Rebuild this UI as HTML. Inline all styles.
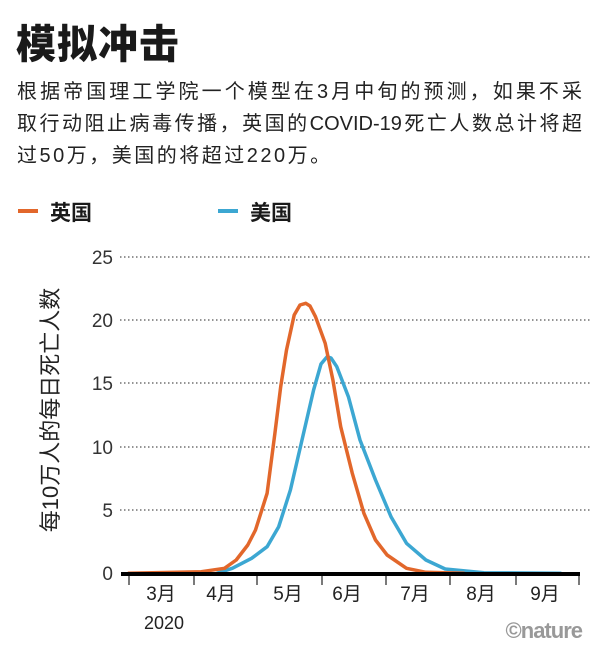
<!DOCTYPE html>
<html><head><meta charset="utf-8"><style>
body{margin:0;background:#fff;width:600px;height:660px;overflow:hidden;font-family:"Liberation Sans","Noto Sans CJK SC",sans-serif;color:#1a1a1a}
.t{position:absolute;left:16px;top:12px;font-size:40px;font-weight:900;letter-spacing:1px}
.p{position:absolute;left:17px;top:76px;width:565px;font-size:20px;line-height:32px;color:#222}
.j{display:block;text-align:justify;text-align-last:justify;white-space:nowrap}
</style></head><body>
<div class="t">模拟冲击</div>
<div class="p"><span class="j">根据帝国理工学院一个模型在3月中旬的预测，如果不采</span><span class="j">取行动阻止病毒传播，英国的COVID-19死亡人数总计将超</span><span style="display:block;letter-spacing:2.5px">过50万，美国的将超过220万。</span></div>
<svg width="600" height="660" style="position:absolute;left:0;top:0" font-family="Liberation Sans, Noto Sans CJK SC, sans-serif">
<line x1="18" y1="211" x2="38" y2="211" stroke="#e2672b" stroke-width="4"/>
<text x="50" y="220" font-size="21" font-weight="bold" fill="#1a1a1a">英国</text>
<line x1="218" y1="211" x2="238" y2="211" stroke="#3ca7d2" stroke-width="4"/>
<text x="250" y="220" font-size="21" font-weight="bold" fill="#1a1a1a">美国</text>
<g stroke="#555" stroke-width="1.3" stroke-dasharray="1.5,2.5">
<line x1="120" y1="257" x2="590" y2="257"/><line x1="120" y1="320" x2="590" y2="320"/><line x1="120" y1="383" x2="590" y2="383"/><line x1="120" y1="447" x2="590" y2="447"/><line x1="120" y1="510" x2="590" y2="510"/>
</g>
<g font-size="19" fill="#333" text-anchor="end">
<text x="113" y="264">25</text><text x="113" y="327">20</text><text x="113" y="390">15</text><text x="113" y="454">10</text><text x="113" y="517">5</text><text x="113" y="580">0</text>
</g>
<text transform="translate(58,410) rotate(-90)" font-size="22" fill="#222" text-anchor="middle">每10万人的每日死亡人数</text>
<polyline fill="none" stroke="#3ca7d2" stroke-width="3.5" stroke-linejoin="round" points="216.8,573.3 232.3,568.3 251.6,558.3 267.1,546.7 278.7,526.7 290.4,490 302,440 313.6,390 321,364 327.1,356.7 331,358 336.8,366.7 348.4,396.7 360,440 375.5,480 391,516.7 406.5,543.3 425.9,560 445.2,569 483.9,572.7 561.4,573.3"/>
<polyline fill="none" stroke="#e2672b" stroke-width="3.5" stroke-linejoin="round" points="127.8,573.3 201.3,571.7 224.5,568.3 236.2,560 247.8,545 255.5,530 267.1,493.3 274.9,433.3 280.7,386.7 286.5,350 294.2,315 300,305 305.8,303.3 310,306 315.5,316.7 325.2,343.3 332.9,380 340.7,426.7 352.3,473.3 363.9,513.3 375.5,540 387.1,555 406.5,568.3 425.9,572.3 464.6,573.3"/>
<line x1="121" y1="574" x2="580" y2="574" stroke="#000" stroke-width="4"/>
<g stroke="#333" stroke-width="1.3">
<line x1="129" y1="576" x2="129" y2="585"/><line x1="194" y1="576" x2="194" y2="585"/><line x1="257" y1="576" x2="257" y2="585"/><line x1="322" y1="576" x2="322" y2="585"/><line x1="386" y1="576" x2="386" y2="585"/><line x1="450" y1="576" x2="450" y2="585"/><line x1="516" y1="576" x2="516" y2="585"/><line x1="579" y1="576" x2="579" y2="585"/>
</g>
<g font-size="19" fill="#222" text-anchor="middle">
<text x="161" y="600">3月</text><text x="221" y="600">4月</text><text x="288" y="600">5月</text><text x="347" y="600">6月</text><text x="415" y="600">7月</text><text x="481" y="600">8月</text><text x="545" y="600">9月</text>
</g>
<text x="164" y="629" font-size="18" fill="#222" text-anchor="middle">2020</text>
<text x="582" y="638" font-size="22" font-weight="bold" fill="#999" text-anchor="end" letter-spacing="-1">©nature</text>
</svg>
</body></html>
